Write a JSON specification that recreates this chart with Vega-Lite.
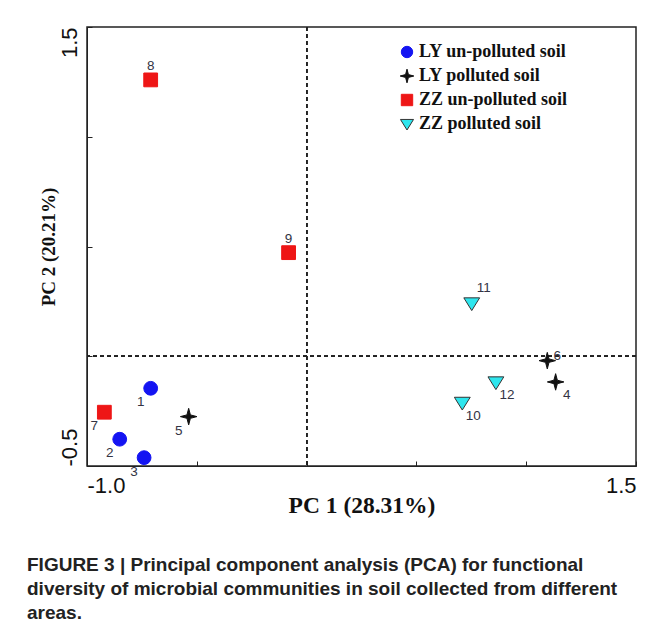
{
  "$schema": "https://vega.github.io/schema/vega-lite/v6.json",
  "width": 549,
  "height": 439,
  "autosize": {"type": "none"},
  "padding": {"left": 87, "top": 27, "right": 34, "bottom": 171},
  "background": "white",
  "title": {
    "text": ["FIGURE 3 | Principal component analysis (PCA) for functional", "diversity of microbial communities in soil collected from different", "areas."],
    "orient": "bottom",
    "anchor": "start",
    "frame": "group",
    "dx": -60,
    "offset": 39,
    "font": "Liberation Sans",
    "fontSize": 19,
    "fontWeight": "bold",
    "color": "#222222",
    "lineHeight": 24,
    "baseline": "top"
  },
  "config": {
    "view": {"stroke": "#222222", "strokeWidth": 1.5}
  },
  "data": {
    "values": [
      {"id": 1, "group": "LY un-polluted soil", "pc1": -0.710, "pc2": -0.146},
      {"id": 2, "group": "LY un-polluted soil", "pc1": -0.851, "pc2": -0.378},
      {"id": 3, "group": "LY un-polluted soil", "pc1": -0.740, "pc2": -0.462},
      {"id": 4, "group": "LY polluted soil", "pc1": 1.134, "pc2": -0.117},
      {"id": 5, "group": "LY polluted soil", "pc1": -0.537, "pc2": -0.275},
      {"id": 6, "group": "LY polluted soil", "pc1": 1.096, "pc2": -0.020},
      {"id": 7, "group": "ZZ un-polluted soil", "pc1": -0.921, "pc2": -0.255},
      {"id": 8, "group": "ZZ un-polluted soil", "pc1": -0.710, "pc2": 1.259},
      {"id": 9, "group": "ZZ un-polluted soil", "pc1": -0.082, "pc2": 0.472},
      {"id": 10, "group": "ZZ polluted soil", "pc1": 0.709, "pc2": -0.212},
      {"id": 11, "group": "ZZ polluted soil", "pc1": 0.752, "pc2": 0.241},
      {"id": 12, "group": "ZZ polluted soil", "pc1": 0.862, "pc2": -0.119}
    ]
  },
  "encoding": {
    "x": {
      "field": "pc1",
      "type": "quantitative",
      "scale": {"domain": [-1, 1.5], "nice": false, "zero": false},
      "axis": {
        "values": [-1, -0.5, 0, 0.5, 1, 1.5],
        "labelExpr": "datum.value == -1 ? '-1.0' : (datum.value == 1.5 ? '1.5' : '')",
        "labelFlush": true,
        "labelOverlap": false,
        "labelFont": "Liberation Sans",
        "labelFontSize": 22,
        "labelColor": "#111111",
        "labelPadding": 14,
        "tickSize": -5,
        "tickColor": "#222222",
        "domainColor": "#222222",
        "grid": false,
        "title": "PC 1 (28.31%)",
        "titleFont": "Liberation Serif",
        "titleFontSize": 23.5,
        "titleFontWeight": "bold",
        "titleColor": "#111111",
        "titleY": 46,
        "titleBaseline": "alphabetic"
      }
    },
    "y": {
      "field": "pc2",
      "type": "quantitative",
      "scale": {"domain": [-0.5, 1.5], "nice": false, "zero": false},
      "axis": {
        "values": [-0.5, 0, 0.5, 1, 1.5],
        "labelExpr": "datum.value == -0.5 ? '-0.5' : (datum.value == 1.5 ? '1.5' : '')",
        "labelAngle": -90,
        "labelAlign": {"condition": {"test": "datum.value == 1.5", "value": "right"}, "value": "left"},
        "labelBaseline": "alphabetic",
        "labelFlush": false,
        "labelOverlap": false,
        "labelFont": "Liberation Sans",
        "labelFontSize": 22,
        "labelColor": "#111111",
        "labelPadding": 16,
        "tickSize": -5,
        "tickColor": "#222222",
        "domainColor": "#222222",
        "grid": false,
        "title": "PC 2 (20.21%)",
        "titleFont": "Liberation Serif",
        "titleFontSize": 19,
        "titleFontWeight": "bold",
        "titleColor": "#111111",
        "titleAngle": -90,
        "titleX": -39,
        "titleY": 219.5,
        "titleAlign": "center",
        "titleBaseline": "middle"
      }
    }
  },
  "layer": [
    {
      "mark": {"type": "rule", "strokeDash": [4, 3], "color": "#222222", "strokeWidth": 1.2},
      "encoding": {"x": {"datum": 0, "type": "quantitative"}, "y": null}
    },
    {
      "mark": {"type": "rule", "strokeDash": [4, 3], "color": "#222222", "strokeWidth": 1.2},
      "encoding": {"y": {"datum": 0, "type": "quantitative"}, "x": null}
    },
    {
      "mark": {"type": "point", "filled": true, "opacity": 1, "strokeWidth": 1, "size": 190},
      "encoding": {
        "shape": {
          "field": "group",
          "type": "nominal",
          "scale": {
            "domain": ["LY un-polluted soil", "LY polluted soil", "ZZ un-polluted soil", "ZZ polluted soil"],
            "range": ["circle", "M0,-1.2L0.25,-0.25L1.2,0L0.25,0.25L0,1.2L-0.25,0.25L-1.2,0L-0.25,-0.25Z", "square", "M-1.15,-0.8L1.15,-0.8L0,1.05Z"]
          },
          "legend": {
            "title": null,
            "orient": "none",
            "legendX": 311,
            "legendY": 16,
            "padding": 0,
            "labelFont": "Liberation Serif",
            "labelFontSize": 18,
            "labelFontWeight": "bold",
            "labelColor": "#111111",
            "labelLimit": 300,
            "labelOffset": 3,
            "rowPadding": 6,
            "symbolSize": 130,
            "symbolStrokeWidth": 1
          }
        },
        "fill": {
          "field": "group",
          "type": "nominal",
          "scale": {
            "domain": ["LY un-polluted soil", "LY polluted soil", "ZZ un-polluted soil", "ZZ polluted soil"],
            "range": ["#1414f2", "#111111", "#ee1616", "#2ee6ee"]
          }
        },
        "stroke": {
          "field": "group",
          "type": "nominal",
          "scale": {
            "domain": ["LY un-polluted soil", "LY polluted soil", "ZZ un-polluted soil", "ZZ polluted soil"],
            "range": ["#1414f2", "#111111", "#ee1616", "#333333"]
          }
        }
      }
    },
    {
      "transform": [{"filter": "indexof([8, 9], datum.id) >= 0"}],
      "mark": {"type": "text", "font": "Liberation Sans", "fontSize": 13.5, "color": "#333344", "dx": 0, "dy": -14},
      "encoding": {"text": {"field": "id", "type": "nominal"}}
    },
    {
      "transform": [{"filter": "datum.id == 11"}],
      "mark": {"type": "text", "font": "Liberation Sans", "fontSize": 13.5, "color": "#333344", "dx": 12, "dy": -15},
      "encoding": {"text": {"field": "id", "type": "nominal"}}
    },
    {
      "transform": [{"filter": "indexof([1, 2, 3, 5, 7], datum.id) >= 0"}],
      "mark": {"type": "text", "font": "Liberation Sans", "fontSize": 13.5, "color": "#333344", "dx": -10, "dy": 14},
      "encoding": {"text": {"field": "id", "type": "nominal"}}
    },
    {
      "transform": [{"filter": "datum.id == 6"}],
      "mark": {"type": "text", "font": "Liberation Sans", "fontSize": 13.5, "color": "#333344", "dx": 10, "dy": -5},
      "encoding": {"text": {"field": "id", "type": "nominal"}}
    },
    {
      "transform": [{"filter": "indexof([4, 10, 12], datum.id) >= 0"}],
      "mark": {"type": "text", "font": "Liberation Sans", "fontSize": 13.5, "color": "#333344", "dx": 11, "dy": 13},
      "encoding": {"text": {"field": "id", "type": "nominal"}}
    }
  ]
}
